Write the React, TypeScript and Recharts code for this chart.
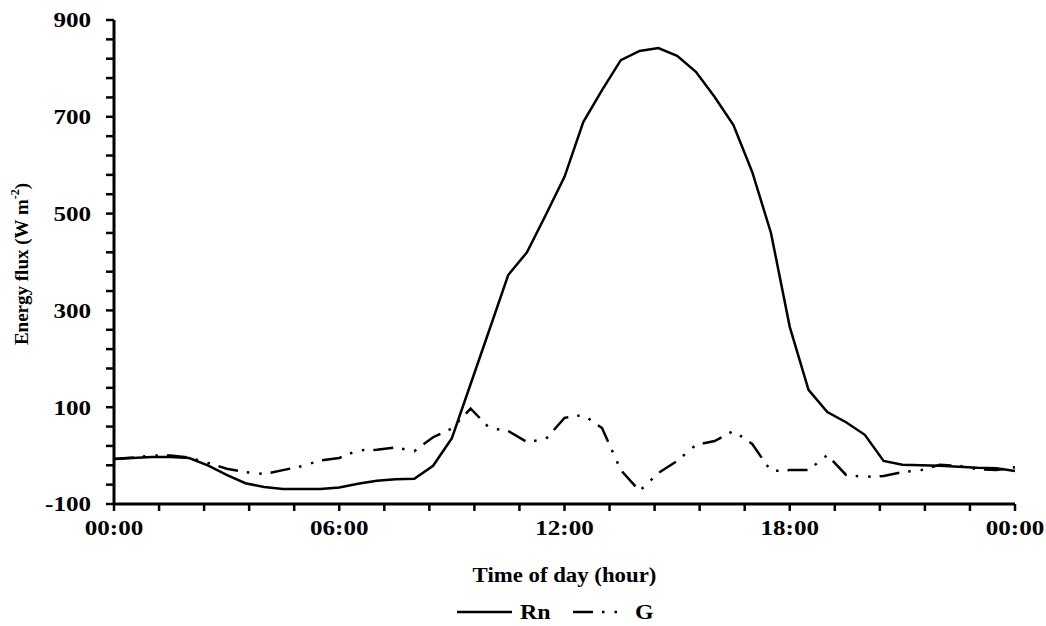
import { LineChart, Line, XAxis, YAxis, Legend, Label } from 'recharts';

// half-hourly readings over one day
const hours = [
  0, 0.5, 1, 1.5, 2, 2.5, 3, 3.5, 4, 4.5, 5, 5.5, 6, 6.5, 7, 7.5, 8, 8.5, 9, 9.5, 10, 10.5, 11, 11.5,
  12, 12.5, 13, 13.5, 14, 14.5, 15, 15.5, 16, 16.5, 17, 17.5, 18, 18.5, 19, 19.5, 20, 20.5, 21, 21.5,
  22, 22.5, 23, 23.5, 24,
];

const rn = [
  -7, -5, -3, -3, -5, -20, -40, -57, -65, -69, -69, -69, -66, -58, -52, -49, -48, -21, 36, 148, 260, 373,
  420, 497, 576, 689, 755, 817, 836, 842, 826, 793, 741, 683, 586, 460, 266, 136, 90, 69, 43, -11, -19,
  -20, -21, -23, -25, -26, -32,
];

const g = [
  -7, -4, 0, 0, -4, -15, -27, -34, -38, -30, -22, -10, -5, 11, 12, 17, 9, 38, 56, 97, 57, 51, 28, 34, 78,
  84, 57, -30, -73, -36, -11, 22, 30, 51, 24, -32, -30, -30, 1, -40, -44, -42, -34, -30, -19, -21, -28,
  -30, -24,
];

const xTicks = [0, 1.2, 2.4, 3.6, 4.8, 6, 7.2, 8.4, 9.6, 10.8, 12, 13.2, 14.4, 15.6, 16.8, 18, 19.2, 20.4, 21.6, 22.8, 24];
const xMajor = [0, 6, 12, 18, 24];
const xTickLabels = ['00:00', '06:00', '12:00', '18:00', '00:00'];

const yTicks = [
  -100, -60, -20, 20, 60, 100, 140, 180, 220, 260, 300, 340, 380, 420, 460, 500, 540, 580, 620, 660, 700,
  740, 780, 820, 860, 900,
];
const yMajor = [-100, 100, 300, 500, 700, 900];

const data = hours.map((h, i) => ({ hour: h, Rn: rn[i], G: g[i] }));

const FONT = "'Liberation Serif', 'Times New Roman', serif";
const STRETCH = 1.14;
const G_DASH = '20 9 2.5 10 2.5 9';

const XTick = (props: any) => {
  const { x, y, payload } = props;
  const idx = xMajor.findIndex((m) => Math.abs(m - payload.value) < 0.01);
  if (idx < 0) return <g />;
  return (
    <text
      transform={`translate(${x},${y + 15}) scale(${STRETCH},1)`}
      textAnchor="middle"
      dominantBaseline="central"
      fontFamily={FONT}
      fontWeight="bold"
      fontSize={22}
      fill="#000"
    >
      {xTickLabels[idx]}
    </text>
  );
};

const YTick = (props: any) => {
  const { x, y, payload } = props;
  if (!yMajor.includes(payload.value)) return <g />;
  return (
    <text
      transform={`translate(${x},${y}) scale(${STRETCH},1)`}
      textAnchor="end"
      dominantBaseline="central"
      fontFamily={FONT}
      fontWeight="bold"
      fontSize={22}
      fill="#000"
    >
      {payload.value}
    </text>
  );
};

const XTitle = (props: any) => {
  const { viewBox } = props;
  const cx = viewBox.x + viewBox.width / 2;
  return (
    <text
      transform={`translate(${cx},${viewBox.y + 71}) scale(${STRETCH},1)`}
      textAnchor="middle"
      dominantBaseline="central"
      fontFamily={FONT}
      fontWeight="bold"
      fontSize={20}
      fill="#000"
    >
      Time of day (hour)
    </text>
  );
};

const YTitle = () => (
  <text
    transform="translate(21,264) rotate(-90)"
    textAnchor="middle"
    dominantBaseline="central"
    fontFamily={FONT}
    fontWeight="bold"
    fontSize={19}
    fill="#000"
  >
    Energy flux (W m
    <tspan dy={-6} fontSize={12}>
      -2
    </tspan>
    <tspan dy={6}>)</tspan>
  </text>
);

const LegendBox = () => (
  <svg width={1046} height={28} style={{ display: 'block', overflow: 'visible' }}>
    <line x1={457} x2={512} y1={14} y2={14} stroke="#000" strokeWidth={2.5} />
    <text
      transform={`translate(520,14) scale(${STRETCH},1)`}
      dominantBaseline="central"
      fontFamily={FONT}
      fontWeight="bold"
      fontSize={21}
    >
      Rn
    </text>
    <line x1={573} x2={619} y1={14} y2={14} stroke="#000" strokeWidth={2.5} strokeDasharray={G_DASH} />
    <text
      transform={`translate(635,14) scale(${STRETCH},1)`}
      dominantBaseline="central"
      fontFamily={FONT}
      fontWeight="bold"
      fontSize={21}
    >
      G
    </text>
  </svg>
);

export default function App() {
  return (
    <div style={{ position: 'absolute', left: 0, top: 0, width: 1046, height: 626 }}>
      <LineChart
        width={1046}
        height={626}
        data={data}
        margin={{ top: 20, right: 31, left: 14, bottom: 0 }}
      >
        <XAxis
          dataKey="hour"
          type="number"
          domain={[0, 24]}
          ticks={xTicks}
          interval={0}
          height={94}
          tickSize={7}
          tickMargin={2}
          axisLine={{ stroke: '#000', strokeWidth: 3 }}
          tickLine={{ stroke: '#000', strokeWidth: 2.5 }}
          tick={<XTick />}
        >
          <Label content={<XTitle />} />
        </XAxis>
        <YAxis
          type="number"
          domain={[-100, 900]}
          ticks={yTicks}
          interval={0}
          width={100}
          tickSize={8}
          tickMargin={15}
          axisLine={{ stroke: '#000', strokeWidth: 3 }}
          tickLine={{ stroke: '#000', strokeWidth: 2.5 }}
          tick={<YTick />}
        >
          <Label content={<YTitle />} />
        </YAxis>
        <Legend
          verticalAlign="bottom"
          height={28}
          wrapperStyle={{ left: 0, width: 1046 }}
          content={<LegendBox />}
        />
        <Line
          type="linear"
          dataKey="Rn"
          stroke="#000"
          strokeWidth={2.5}
          dot={false}
          isAnimationActive={false}
        />
        <Line
          type="linear"
          dataKey="G"
          stroke="#000"
          strokeWidth={2.5}
          strokeDasharray={G_DASH}
          dot={false}
          isAnimationActive={false}
        />
      </LineChart>
    </div>
  );
}
